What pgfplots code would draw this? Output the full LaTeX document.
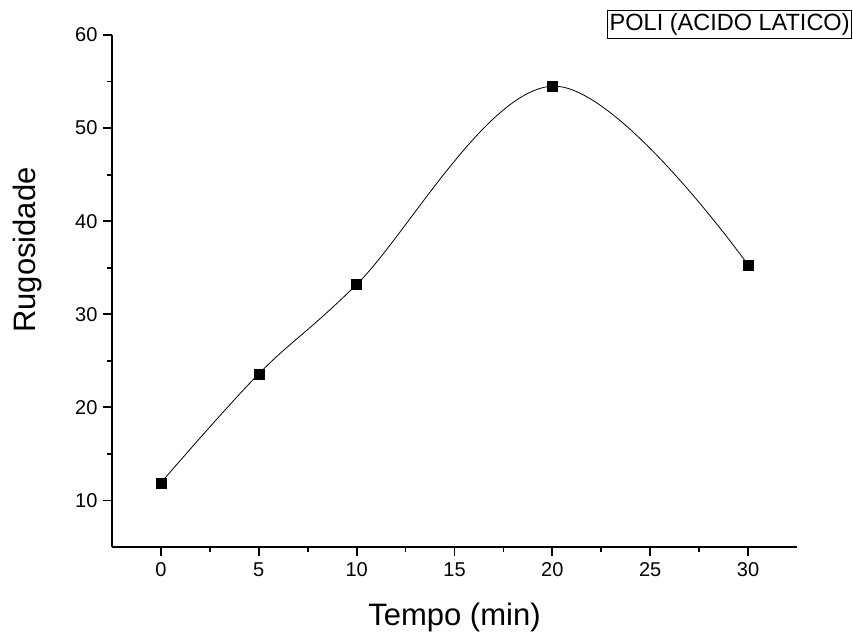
\documentclass[border=0pt]{standalone}
\usepackage{pgfplots}
\pgfplotsset{compat=1.18}
\usepackage{fontspec}
\setmainfont{Liberation Sans}
\begin{document}
\begin{tikzpicture}[x=1pt,y=1pt]
\useasboundingbox (0,0) rectangle (853,635);
\begin{axis}[
  at={(112pt,88pt)}, anchor=south west,
  scale only axis, width=685pt, height=512pt,
  xmin=-2.5, xmax=32.5, ymin=5, ymax=60,
  axis lines*=left,
  axis line style={line width=1.8pt},
  xtick={0,5,...,30}, ytick={10,20,...,60},
  minor x tick num=1, minor y tick num=1,
  tick align=outside,
  major tick length=9pt, minor tick length=5pt,
  tick style={line width=1.8pt, black},
  tick label style={font=\fontsize{20}{22}\selectfont},
  /pgf/number format/assume math mode=true,
  xticklabel style={yshift=-3pt},
  yticklabel style={xshift=-2pt},
  xlabel={Tempo (min)}, ylabel={Rugosidade},
  label style={font=\fontsize{31}{34}\selectfont},
  xlabel style={at={(axis description cs:0.5,0)}, anchor=base, yshift=-78pt},
  ylabel style={at={(axis description cs:-0.1124,0.58)}, anchor=base, rotate=0},
  clip=false,
]
\addplot[black, line width=0.8pt, smooth, tension=0.6] coordinates {
  (0,11.9) (5,23.6) (10,33.2) (20,54.5) (30,35.3)};
\addplot[only marks, mark=square*, mark size=5pt, black] coordinates {
  (0,11.9) (5,23.6) (10,33.2) (20,54.5) (30,35.3)};
\end{axis}
\node[draw, line width=0.9pt, anchor=north east, inner xsep=2pt, inner ysep=3pt,
  font=\fontsize{23.5}{25}\selectfont] at (852,625) {POLI (ACIDO LATICO)};
\end{tikzpicture}
\end{document}
